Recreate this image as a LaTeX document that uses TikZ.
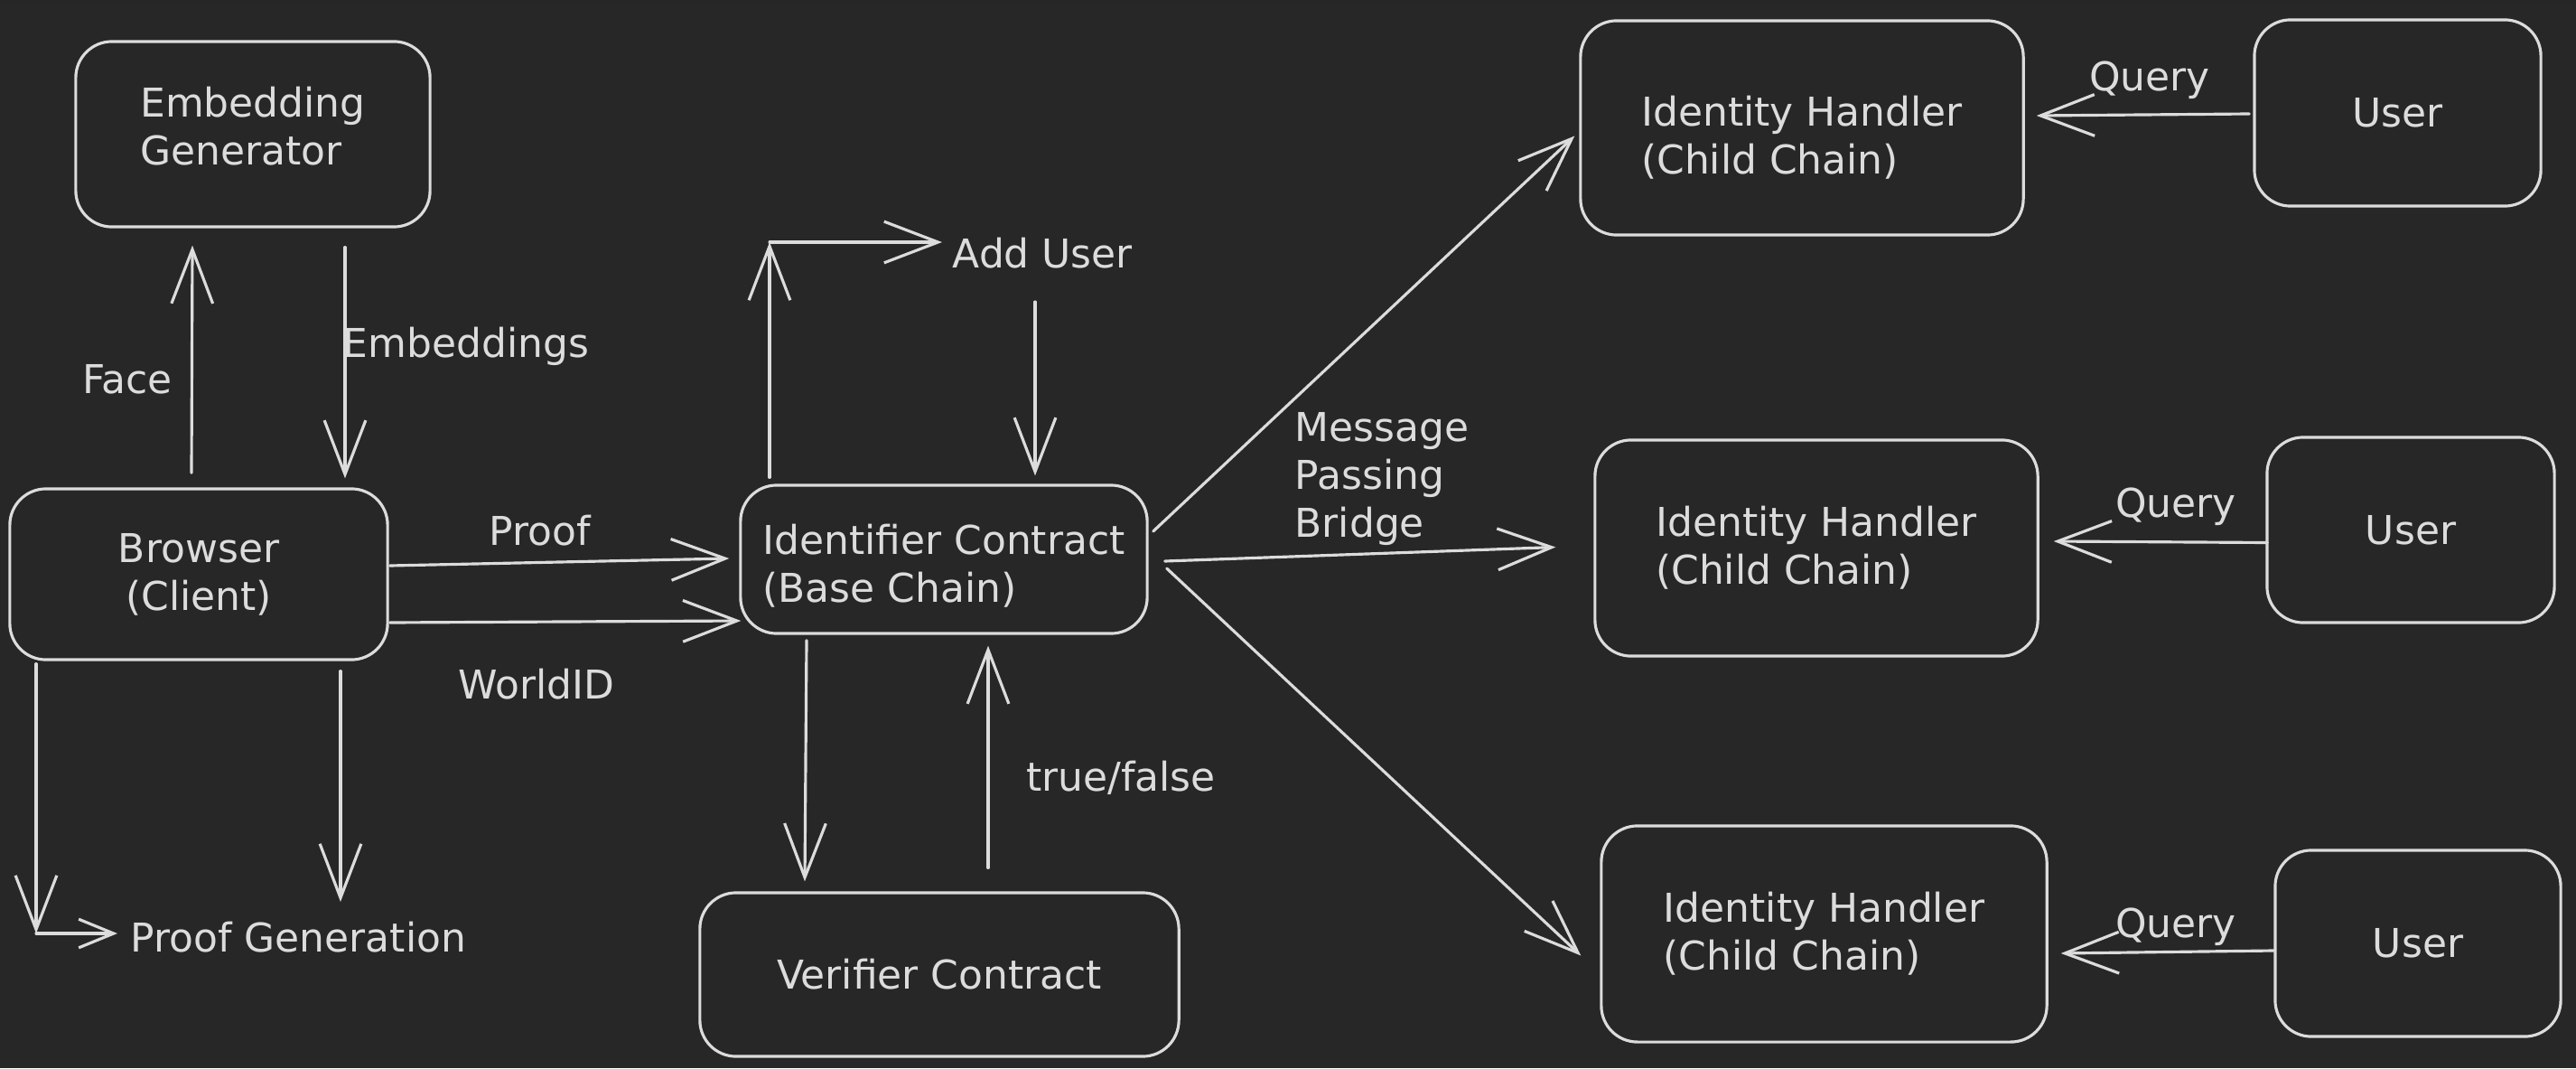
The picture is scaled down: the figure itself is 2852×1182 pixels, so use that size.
\documentclass[tikz,border=0pt]{standalone}
\usepackage{fontspec}
\setmainfont{DejaVu Sans}
\usetikzlibrary{arrows.meta,calc}
\definecolor{bg}{HTML}{272727}
\definecolor{ink}{HTML}{DCDCDC}
\begin{document}
\begin{tikzpicture}[x=0.01cm,y=-0.01cm,
  every node/.style={text=ink, font=\fontsize{12.5}{15}\selectfont},
  box/.style={draw=ink, line width=0.9pt, rounded corners=0.4cm, align=left, inner sep=0pt},
  lbl/.style={inner sep=0pt, align=left},
  arr/.style={draw=ink, line width=0.9pt, line cap=round, line join=round, -{Straight Barb[length=17pt,width=13pt]}},
  arrs/.style={arr, -{Straight Barb[length=11pt,width=9pt]}}
]
\fill[bg] (0,0) rectangle (2852,1182);
\fill[black!85] (0,0) rectangle (2852,3);
\useasboundingbox (0,0) rectangle (2852,1182);

% boxes
\node[box, minimum width=3.92cm, minimum height=2.05cm,
  label={[lbl, yshift=0.09cm]center:{Embedding\\Generator}}] (emb) at (280,148.5) {};
\node[box, align=center, minimum width=4.18cm, minimum height=1.89cm] (browser) at (220,635.5) {Browser\\(Client)};
\node[box, minimum width=4.50cm, minimum height=1.64cm,
  label={[lbl, yshift=-0.07cm]center:{Identifier Contract\\(Base Chain)}}] (idc) at (1045,619) {};
\node[box, align=center, minimum width=5.30cm, minimum height=1.81cm] (ver) at (1040,1078.5) {Verifier Contract};
\node[box, minimum width=4.90cm, minimum height=2.37cm,
  label={[lbl, yshift=-0.11cm]center:{Identity Handler\\(Child Chain)}}] (ih1) at (1995,141.5) {};
\node[box, minimum width=4.90cm, minimum height=2.39cm] (ih2) at (2011,606.5) {Identity Handler\\(Child Chain)};
\node[box, minimum width=4.93cm, minimum height=2.39cm] (ih3) at (2019.5,1033.5) {Identity Handler\\(Child Chain)};
\node[box, align=center, minimum width=3.17cm, minimum height=2.06cm] (u1) at (2654.5,125) {User};
\node[box, align=center, minimum width=3.18cm, minimum height=2.05cm] (u2) at (2669,586.5) {User};
\node[box, align=center, minimum width=3.16cm, minimum height=2.06cm] (u3) at (2677,1044) {User};

% labels
\node[lbl] (face) at (141,420) {Face};
\node[lbl] (emblbl) at (516,383) {Embeddings};
\node[lbl] (prooflbl) at (598,587) {Proof};
\node[lbl] (wid) at (594,757) {WorldID};
\node[lbl, anchor=west] (pg) at (144,1037) {Proof Generation};
\node[lbl, anchor=west] (au) at (1054,280) {Add User};
\node[lbl, anchor=west] (mpb) at (1433,530) {Message\\Passing\\Bridge};
\node[lbl] (tf) at (1241,861) {true/false};
\node[lbl] (q1) at (2380,89) {Query};
\node[lbl] (q2) at (2409,561) {Query};
\node[lbl] (q3) at (2409,1026) {Query};

% connectors
\draw[arr] ($(browser.north -| 212,0)+(0,-16)$) -- ($(emb.south -| 213,0)+(0,19)$);
\draw[arr] ($(emb.south -| 382,0)+(0,21)$) -- ($(browser.north -| 382,0)+(0,-10)$);
\draw[arr] ($(browser.east |- 0,626)+(1,0)$) -- ($(idc.west |- 0,618)+(-11,0)$);
\draw[arr] ($(browser.east |- 0,689)+(1,0)$) -- ($(idc.west |- 0,687)+(2,0)$);
\coordinate (c1) at (40,1033);
\draw[arr] ($(browser.south -| 40,0)+(0,3)$) -- (c1);
\draw[arrs] (c1) -- ($(pg.west |- c1)+(-14,0)$);
\draw[arr] ($(browser.south -| 377,0)+(0,11)$) -- ($(pg.center -| 377,0)+(0,-39)$);
\coordinate (c2) at (852,268);
\draw[arr] ($(idc.north -| 852,0)+(0,-7)$) -- (c2);
\draw[arr] (c2) -- ($(au.west |- c2)+(-11,0)$);
\draw[arr] ($(au.center -| 1146,0)+(0,54)$) -- ($(idc.north -| 1146,0)+(0,-9)$);
\draw[arr] ($(idc.south -| 893,0)+(0,6)$) -- ($(ver.north -| 891,0)+(0,-11)$);
\draw[arr] ($(ver.north -| 1094,0)+(0,-26)$) -- ($(idc.south -| 1094,0)+(0,12)$);
\draw[arr] ($(idc.east)+(5,-31)$) -- ($(ih1.west)+(-5,9)$);
\draw[arr] ($(idc.east)+(18,2)$) -- ($(ih2.west)+(-42,-1)$);
\draw[arr] ($(idc.east)+(20,10)$) -- ($(ih3.west)+(-21,24)$);
\draw[arr] ($(u1.west)+(-4,1)$) -- ($(ih1.east |- 0,128)+(13,0)$);
\draw[arr] ($(u2.west)+(2,14)$) -- ($(ih2.east |- 0,599)+(16,0)$);
\draw[arr] ($(u3.west)+(0,8)$) -- ($(ih3.east |- 0,1055)+(14,0)$);
\end{tikzpicture}
\end{document}
